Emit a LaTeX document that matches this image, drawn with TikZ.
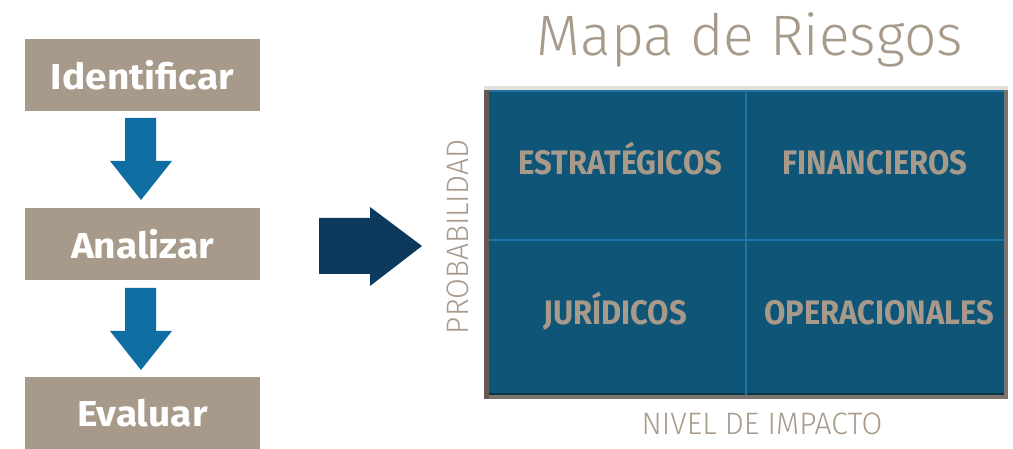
\documentclass[tikz,border=0pt]{standalone}
\usepackage{fontspec}
\setmainfont{Fira Sans}
\newfontfamily\boxfont[FakeStretch=1.08]{Fira Sans}
\newfontfamily\condfont[FakeStretch=0.91]{Fira Sans}
\newfontfamily\lightfont[FakeStretch=0.97]{Fira Sans Light}
\newfontfamily\titlefont{Fira Sans Light}
\definecolor{taupe}{HTML}{A89A8B}
\definecolor{arrowblue}{HTML}{0F6EA1}
\definecolor{navy}{HTML}{0D3A5C}
\definecolor{gridfill}{HTML}{0F5577}
\definecolor{gridline}{HTML}{1D74A8}
\definecolor{frametop}{HTML}{E4DED8}
\definecolor{frameleft}{HTML}{675A52}
\definecolor{frameright}{HTML}{7B736D}
\tikzset{
  stepbox/.style={fill=taupe, minimum width=235pt, minimum height=72pt, inner sep=0pt,
    text=white, font=\boxfont\fontsize{36}{40}\selectfont\bfseries},
  downarrow/.style={fill=arrowblue, draw=none},
  cell/.style={text=taupe, anchor=base, inner sep=0pt, font=\condfont\fontsize{34}{38}\selectfont\bfseries},
  axislabel/.style={text=taupe, font=\lightfont\fontsize{31}{34}\selectfont}
}
\begin{document}
\begin{tikzpicture}[x=1pt,y=-1pt]
\useasboundingbox (0,0) rectangle (1013,449);
% step boxes
\node[stepbox] (ident) at (142.5,75) {Identificar};
\node[stepbox] (anal) at (142.5,244) {Analizar};
\node[stepbox] (eval) at (142.5,413) {Evaluar};
% down arrows
\fill[downarrow] (125,118) -- (156,118) -- (156,161) -- (172,161) -- (141,200) -- (110,161) -- (125,161) -- cycle;
\fill[downarrow] (125,288) -- (156,288) -- (156,331) -- (172,331) -- (141,370) -- (110,331) -- (125,331) -- cycle;
% big arrow
\fill[navy] (319,218) -- (370,218) -- (370,207) -- (422,246) -- (370,286) -- (370,274) -- (319,274) -- cycle;
% title
\node[text=taupe, font=\titlefont\fontsize{57}{62}\selectfont] (title) at (750,40) {Mapa de Riesgos};
% grid frame
\fill[frameright] (484,86) rectangle (1008,399);
\fill[frameleft] (484,86) rectangle (489,399);
\fill[frametop] (484,86) rectangle (1008,90);
\fill[gridfill] (489,90) rectangle (1004,395);
\draw[gridline, line width=1.2pt] (489,91) -- (1004,91);
\fill[black!40!gridfill] (489,393) rectangle (1004,395);
\draw[gridline, line width=1.3pt] (746,90) -- (746,395);
\draw[gridline, line width=1.3pt] (489,240) -- (1004,240);
% cells
\node[cell] (estr) at (620.5,175) {ESTRATÉGICOS};
\node[cell] (fin) at (875,175) {FINANCIEROS};
\node[cell] (jur) at (615,325) {JURÍDICOS};
\node[cell] (oper) at (879,325) {OPERACIONALES};
% axis labels
\node[axislabel, rotate=90] (prob) at (458,237) {PROBABILIDAD};
\node[axislabel] (niv) at (762,424) {NIVEL DE IMPACTO};
\end{tikzpicture}
\end{document}
